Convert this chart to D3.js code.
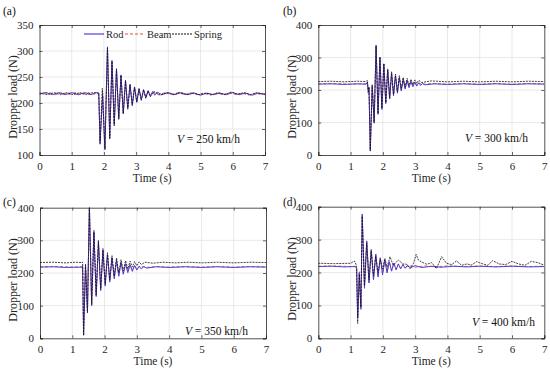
<!DOCTYPE html>
<html><head><meta charset="utf-8">
<script src="https://cdn.jsdelivr.net/npm/d3@7"></script>
<style>body{margin:0;background:#fff}svg{display:block}svg text{font-family:"Times New Roman","Liberation Serif",Tinos,"Nimbus Roman",serif}</style>
</head><body><svg id="c" width="550" height="371"></svg>
<script>
// ---------- DATA ----------
const seriesNames = ["Rod", "Beam", "Spring"];
const speeds = ["250", "300", "350", "400"];
const panelLetters = ["(a)", "(b)", "(c)", "(d)"];
const timeTicks = [0, 1, 2, 3, 4, 5, 6, 7];
const yTicksA = [100, 150, 200, 250, 300, 350];
const yTicksB = [0, 100, 200, 300, 400];

// Panel (a) V = 250 km/h  [time s, load N]
const rodA = [[0,218],[0.2,220],[0.4,216],[0.6,220],[0.8,216],[1.0,220],[1.2,216],[1.4,220],[1.6,216],[1.75,220],[1.84,219],
 [1.88,124],[1.96,215],[2.03,110],[2.11,308],[2.18,133],[2.25,282],[2.32,158],[2.39,266],[2.46,170],[2.53,254],[2.60,180],
 [2.67,244],[2.74,190],[2.81,236],[2.88,196],[2.95,231],[3.02,202],[3.09,228],[3.16,206],[3.23,226],[3.30,210],[3.37,224],
 [3.44,213],[3.51,222],[3.58,215],[3.65,221],[3.8,216],[4.0,220],[4.2,216],[4.4,220],[4.6,216],[4.8,219],[5.0,215],[5.2,219],
 [5.4,216],[5.6,219],[5.8,216],[6.0,220],[6.2,216],[6.4,219],[6.6,215],[6.8,219],[7,217]];
const beamA = [[0,217],[0.3,220],[0.5,216],[0.7,220],[0.9,216],[1.1,220],[1.3,216],[1.5,220],[1.7,217],[1.84,218],
 [1.88,128],[1.96,220],[2.03,114],[2.11,304],[2.18,136],[2.25,279],[2.32,161],[2.39,263],[2.46,172],[2.53,252],[2.60,182],
 [2.67,242],[2.74,191],[2.81,235],[2.88,198],[2.95,230],[3.02,203],[3.09,227],[3.16,207],[3.23,225],[3.30,211],[3.37,223],
 [3.44,214],[3.51,221],[3.7,216],[3.9,220],[4.1,216],[4.3,220],[4.5,216],[4.7,219],[4.9,216],[5.1,219],[5.3,215],[5.5,219],
 [5.7,216],[5.9,220],[6.1,216],[6.3,219],[6.5,215],[6.7,219],[6.9,216],[7,218]];
const springA = [[0,219],[0.25,216],[0.45,220],[0.65,216],[0.85,220],[1.05,216],[1.25,220],[1.45,216],[1.65,220],[1.84,219],
 [1.88,120],[1.95,228],[2.03,112],[2.11,306],[2.18,130],[2.25,280],[2.32,156],[2.39,265],[2.46,168],[2.53,253],[2.60,179],
 [2.67,243],[2.74,188],[2.81,235],[2.88,195],[2.95,230],[3.02,201],[3.09,227],[3.16,205],[3.23,225],[3.30,209],[3.37,223],
 [3.44,212],[3.55,222],[3.75,215],[3.95,220],[4.15,216],[4.35,220],[4.55,216],[4.75,220],[4.95,216],[5.15,219],[5.35,216],
 [5.55,220],[5.75,216],[5.95,221],[6.15,217],[6.35,220],[6.55,216],[6.75,220],[7,216]];

// Panel (b) V = 300 km/h
const rodB = [[0,218],[0.4,219],[0.8,217],[1.2,219],[1.48,218],[1.52,224],[1.55,190],[1.57,205],[1.61,14],[1.67,212],[1.73,100],
 [1.79,336],[1.85,125],[1.91,300],[1.97,140],[2.03,280],[2.09,158],[2.15,262],[2.21,172],[2.27,252],[2.33,182],[2.39,244],
 [2.45,190],[2.51,238],[2.57,197],[2.63,233],[2.69,203],[2.75,229],[2.81,207],[2.87,226],[2.93,210],[2.99,224],[3.05,212],
 [3.11,222],[3.17,214],[3.23,221],[3.3,216],[3.6,219],[4.0,217],[4.5,219],[5.0,217],[5.5,219],[6.0,217],[6.5,219],[7,218]];
const beamB = [[0,219],[0.5,220],[1.0,218],[1.48,219],[1.52,225],[1.55,192],[1.57,207],[1.61,18],[1.67,214],[1.73,104],
 [1.79,332],[1.85,128],[1.91,298],[1.97,143],[2.03,278],[2.09,160],[2.15,261],[2.21,174],[2.27,251],[2.33,184],[2.39,243],
 [2.45,192],[2.51,237],[2.57,199],[2.63,233],[2.69,205],[2.75,229],[2.81,209],[2.87,227],[2.93,212],[2.99,225],[3.05,214],
 [3.11,222],[3.2,217],[3.5,220],[4.0,218],[4.5,220],[5.0,218],[5.5,220],[6.0,218],[6.5,220],[7,219]];
const springB = [[0,226],[0.4,227],[0.8,225],[1.2,227],[1.48,226],[1.52,230],[1.55,196],[1.57,210],[1.61,12],[1.67,216],[1.73,98],
 [1.79,338],[1.85,128],[1.91,302],[1.97,144],[2.03,282],[2.09,162],[2.15,265],[2.21,177],[2.27,256],[2.33,187],[2.39,249],
 [2.45,196],[2.51,244],[2.57,203],[2.63,239],[2.69,209],[2.75,236],[2.81,214],[2.87,233],[2.93,217],[2.99,231],[3.05,220],
 [3.11,230],[3.2,223],[3.5,228],[4.0,225],[4.5,227],[5.0,225],[5.5,227],[6.0,225],[6.5,227],[7,226]];

// Panel (c) V = 350 km/h
const rodC = [[0,218],[0.4,219],[0.8,217],[1.3,218],[1.32,222],[1.35,10],[1.41,222],[1.47,80],[1.53,405],[1.60,100],[1.67,326],
 [1.74,128],[1.81,296],[1.88,146],[1.95,270],[2.02,160],[2.09,256],[2.16,172],[2.23,246],[2.30,182],[2.37,238],[2.44,190],
 [2.51,232],[2.58,196],[2.65,228],[2.72,201],[2.79,225],[2.86,205],[2.93,223],[3.0,209],[3.07,221],[3.14,212],[3.21,220],
 [3.3,215],[3.6,219],[4.0,217],[4.5,219],[5.0,217],[5.5,219],[6.0,217],[6.5,219],[7,218]];
const beamC = [[0,219],[0.5,220],[1.0,218],[1.3,219],[1.32,223],[1.35,14],[1.41,223],[1.47,84],[1.53,402],[1.60,104],[1.67,324],
 [1.74,131],[1.81,295],[1.88,149],[1.95,270],[2.02,163],[2.09,256],[2.16,175],[2.23,247],[2.30,185],[2.37,239],[2.44,193],
 [2.51,233],[2.58,199],[2.65,229],[2.72,204],[2.79,226],[2.86,208],[2.93,224],[3.0,211],[3.1,221],[3.3,217],[3.6,220],
 [4.0,218],[4.5,220],[5.0,218],[5.5,220],[6.0,218],[6.5,220],[7,219]];
const springC = [[0,232],[0.4,233],[0.8,231],[1.1,233],[1.3,232],[1.32,234],[1.35,8],[1.41,228],[1.47,78],[1.53,405],[1.60,104],
 [1.67,330],[1.74,134],[1.81,300],[1.88,152],[1.95,275],[2.02,167],[2.09,262],[2.16,180],[2.23,253],[2.30,191],[2.37,246],
 [2.44,200],[2.51,241],[2.58,207],[2.65,238],[2.72,213],[2.79,236],[2.86,218],[2.93,235],[3.0,222],[3.07,234],[3.14,226],
 [3.25,233],[3.5,230],[3.8,233],[4.2,231],[4.6,233],[5.0,231],[5.5,233],[6.0,231],[6.5,233],[7,232]];

// Panel (d) V = 400 km/h
const rodD = [[0,218],[0.4,219],[0.8,217],[1.15,218],[1.19,212],[1.22,62],[1.27,200],[1.32,88],[1.36,378],[1.43,152],[1.50,296],
 [1.57,168],[1.64,270],[1.71,178],[1.78,256],[1.85,186],[1.92,245],[1.99,193],[2.06,238],[2.13,199],[2.20,233],[2.27,204],
 [2.34,229],[2.41,208],[2.48,226],[2.55,211],[2.62,224],[2.69,213],[2.76,222],[2.85,214],[3.0,221],[3.2,215],[3.5,219],
 [3.8,216],[4.2,219],[4.6,217],[5.0,219],[5.5,217],[6.0,219],[6.5,217],[7,218]];
const beamD = [[0,219],[0.5,220],[1.0,218],[1.15,219],[1.19,213],[1.22,66],[1.27,203],[1.32,92],[1.36,372],[1.43,156],[1.50,292],
 [1.57,171],[1.64,268],[1.71,181],[1.78,254],[1.85,189],[1.92,244],[1.99,196],[2.06,237],[2.13,202],[2.20,232],[2.27,206],
 [2.34,228],[2.41,210],[2.48,226],[2.55,213],[2.62,224],[2.69,215],[2.8,221],[3.0,216],[3.3,220],[3.6,217],[4.0,220],
 [4.5,218],[5.0,220],[5.5,218],[6.0,220],[6.5,218],[7,219]];
const springD = [[0,228],[0.5,227],[1.0,228],[1.12,235],[1.18,222],[1.22,45],[1.27,195],[1.32,95],[1.36,370],[1.43,160],[1.50,290],
 [1.57,178],[1.64,265],[1.71,190],[1.78,250],[1.85,200],[1.92,240],[1.99,210],[2.06,243],[2.13,216],[2.22,248],[2.32,222],
 [2.48,238],[2.62,226],[2.74,225],[2.84,212],[2.95,228],[3.03,255],[3.1,238],[3.2,232],[3.36,225],[3.51,230],[3.66,212],
 [3.82,248],[3.97,228],[4.13,224],[4.28,235],[4.44,222],[4.6,226],[4.75,223],[4.9,233],[5.1,226],[5.25,222],[5.4,236],
 [5.6,226],[5.8,224],[6.0,234],[6.2,226],[6.4,222],[6.6,234],[6.8,230],[7,222]];

// ---------- LAYOUT / STYLE ----------
const FONT = '"Times New Roman","Liberation Serif",Tinos,serif';
const svg = d3.select("#c");
const colors = {Rod: "#4f3fd6", Beam: "#e0502e", Spring: "#111111"};
const dashes = {Rod: null, Beam: "3,2", Spring: "2,1"};
const widths = {Rod: 1.0, Beam: 0.9, Spring: 0.8};
const drawOrder = [1, 0, 2]; // Beam underneath, then Rod, then Spring

const panels = [
  {L: 39.5, R: 265, T: 25, B: 155, dom: [100, 350], ticks: yTicksA, data: [rodA, beamA, springA],
   letter: [3, 15], ylab: [17, 97], vtxt: [240, 143], legend: true},
  {L: 318.3, R: 544.3, T: 25, B: 155, dom: [0, 400], ticks: yTicksB, data: [rodB, beamB, springB],
   letter: [283, 15], ylab: [296, 97], vtxt: [528, 142]},
  {L: 40, R: 266, T: 207.7, B: 338.3, dom: [0, 400], ticks: yTicksB, data: [rodC, beamC, springC],
   letter: [3, 206], ylab: [17, 280], vtxt: [248, 335]},
  {L: 318.3, R: 544.3, T: 206.7, B: 338.3, dom: [0, 400], ticks: yTicksB, data: [rodD, beamD, springD],
   letter: [283, 206], ylab: [296, 279], vtxt: [535, 326]}
];

panels.forEach((p, i) => {
  const x = d3.scaleLinear().domain([0, 7]).range([p.L, p.R]);
  const y = d3.scaleLinear().domain(p.dom).range([p.B, p.T]);
  const g = svg.append("g");

  // grid
  g.selectAll(".gx").data(timeTicks.slice(1, -1)).enter().append("line")
    .attr("x1", d => x(d)).attr("x2", d => x(d)).attr("y1", p.T).attr("y2", p.B)
    .attr("stroke", "#e3e3e3").attr("stroke-width", 0.8);
  g.selectAll(".gy").data(p.ticks.slice(1, -1)).enter().append("line")
    .attr("y1", d => y(d)).attr("y2", d => y(d)).attr("x1", p.L).attr("x2", p.R)
    .attr("stroke", "#e3e3e3").attr("stroke-width", 0.8);

  // clip
  const cid = "clip" + i;
  svg.append("clipPath").attr("id", cid).append("rect")
    .attr("x", p.L).attr("y", p.T).attr("width", p.R - p.L).attr("height", p.B - p.T);

  const line = d3.line().x(d => x(d[0])).y(d => y(d[1]));
  const lg = g.append("g").attr("clip-path", `url(#${cid})`);
  drawOrder.forEach(k => {
    const name = seriesNames[k];
    lg.append("path").datum(p.data[k]).attr("d", line)
      .attr("fill", "none").attr("stroke", colors[name])
      .attr("stroke-width", widths[name])
      .attr("stroke-dasharray", dashes[name])
      .attr("stroke-linejoin", "round");
  });

  // axes (inward ticks, MATLAB style)
  const ax = g.append("g").attr("transform", `translate(0,${p.B})`)
    .call(d3.axisBottom(x).tickValues(timeTicks).tickSize(-3).tickPadding(7).tickFormat(d3.format("d")));
  const ay = g.append("g").attr("transform", `translate(${p.L},0)`)
    .call(d3.axisLeft(y).tickValues(p.ticks).tickSize(-3).tickPadding(6).tickFormat(d3.format("d")));
  const axT = g.append("g").attr("transform", `translate(0,${p.T})`)
    .call(d3.axisTop(x).tickValues(timeTicks).tickSize(-3).tickFormat(""));
  const ayR = g.append("g").attr("transform", `translate(${p.R},0)`)
    .call(d3.axisRight(y).tickValues(p.ticks).tickSize(-3).tickFormat(""));
  [ax, ay, axT, ayR].forEach(a => {
    a.attr("font-family", FONT);
    a.select(".domain").attr("stroke", "#262626").attr("stroke-width", 0.8);
    a.selectAll(".tick line").attr("stroke", "#262626").attr("stroke-width", 0.7);
    a.selectAll("text").attr("font-family", FONT).attr("font-size", 11).attr("fill", "#262626");
  });

  // axis titles
  g.append("text").attr("x", (p.L + p.R) / 2).attr("y", p.B + 27)
    .attr("font-family", FONT).attr("text-anchor", "middle").attr("font-size", 11.5).attr("fill", "#262626").text("Time (s)");
  g.append("text").attr("transform", `translate(${p.ylab[0]},${p.ylab[1]}) rotate(-90)`)
    .attr("font-family", FONT).attr("text-anchor", "middle").attr("font-size", 12).attr("fill", "#262626").text("Dropper load (N)");

  // panel letter
  svg.append("text").attr("x", p.letter[0]).attr("y", p.letter[1])
    .attr("font-family", FONT).attr("font-size", 11.5).attr("fill", "#111").text(panelLetters[i]);

  // speed annotation
  const vt = g.append("text").attr("x", p.vtxt[0]).attr("y", p.vtxt[1])
    .attr("font-family", FONT).attr("text-anchor", "end").attr("font-size", 11.5).attr("fill", "#111");
  vt.append("tspan").attr("font-style", "italic").text("V");
  vt.append("tspan").text(" = " + speeds[i] + " km/h");

  // legend
  if (p.legend) {
    const lx = [84, 125, 172];
    const ly = 34;
    seriesNames.forEach((name, k) => {
      g.append("line").attr("x1", lx[k]).attr("x2", lx[k] + 20).attr("y1", ly).attr("y2", ly)
        .attr("stroke", colors[name]).attr("stroke-width", name === "Rod" ? 1.2 : 1)
        .attr("stroke-dasharray", dashes[name]);
      g.append("text").attr("x", lx[k] + 22).attr("y", ly + 4)
        .attr("font-family", FONT).attr("font-size", 10.5).attr("fill", "#262626").text(name);
    });
  }
});
</script></body></html>
